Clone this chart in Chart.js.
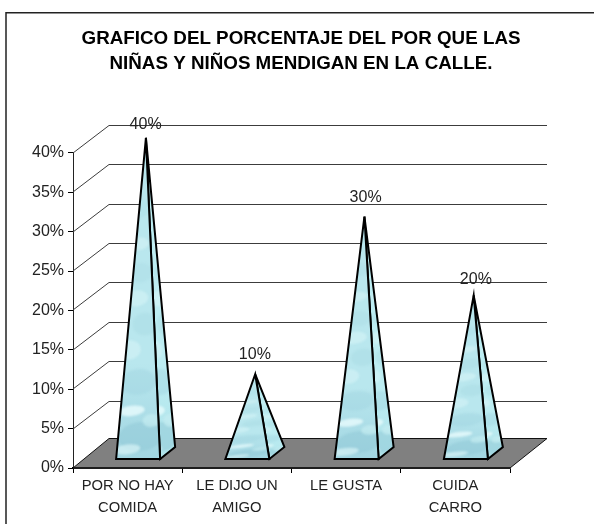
<!DOCTYPE html>
<html>
<head>
<meta charset="utf-8">
<script src="https://cdn.jsdelivr.net/npm/chart.js@4"></script>
<style>html,body{margin:0;padding:0;background:#fff}canvas{display:block}</style>
</head>
<body>
<canvas id="c" width="594" height="524"></canvas>
<script>
const titleLines = ['GRAFICO DEL PORCENTAJE DEL POR QUE LAS', 'NIÑAS Y NIÑOS MENDIGAN EN LA CALLE.'];
const categories = [['POR NO HAY', 'COMIDA'], ['LE DIJO UN', 'AMIGO'], ['LE GUSTA', ''], ['CUIDA', 'CARRO']];
const seriesValues = [40, 10, 30, 20];
const dataLabels = ['40%', '10%', '30%', '20%'];
const yMax = 40;
const yStep = 5;

const FONT = '"Liberation Sans", Arial, sans-serif';
const DX = 36, DY = 28, FLOOR_DY = 29.5;
const labelLift = [13, 20, 19, 16];
const labelShift = [0, 0, 1.5, 2.5];
// Fixed water-like mottling, as fractions of a face's bounding box.
const blotches = [
  [.55,.93,.5,.045,'#8fc8d6',.5],[.35,.85,.3,.016,'#e8fbfc',.8],[.5,.76,.4,.04,'#9ed2de',.4],
  [.3,.66,.26,.03,'#d6f4f7',.6],[.65,.58,.28,.035,'#a2d6e0',.35],[.45,.5,.28,.025,'#d8f5f8',.55],
  [.55,.42,.28,.03,'#a4d8e2',.3],[.5,.33,.25,.02,'#dcf6f8',.5],[.5,.22,.25,.03,'#a4d8e2',.25],
  [.25,.97,.3,.015,'#d8f4f6',.7],[.8,.88,.2,.02,'#c4ecf1',.7]
];

function tracePath(ctx, pts) {
  ctx.beginPath();
  pts.forEach((p, i) => i ? ctx.lineTo(p[0], p[1]) : ctx.moveTo(p[0], p[1]));
  ctx.closePath();
}

function face(ctx, pts, base, dark) {
  ctx.save();
  tracePath(ctx, pts);
  const xs = pts.map(p => p[0]), ys = pts.map(p => p[1]);
  const x0 = Math.min(...xs), x1 = Math.max(...xs), y0 = Math.min(...ys), y1 = Math.max(...ys);
  const g = ctx.createLinearGradient(0, y0, 0, y1);
  g.addColorStop(0, base); g.addColorStop(.7, base); g.addColorStop(1, dark);
  ctx.fillStyle = g;
  ctx.fill();
  ctx.save();
  ctx.clip();
  ctx.filter = 'blur(1.2px)';
  blotches.forEach(b => {
    ctx.globalAlpha = b[5];
    ctx.fillStyle = b[4];
    ctx.beginPath();
    ctx.ellipse(x0 + b[0] * (x1 - x0), y0 + b[1] * (y1 - y0), b[2] * (x1 - x0), Math.max(1.5, b[3] * (y1 - y0)), -0.12, 0, Math.PI * 2);
    ctx.fill();
  });
  ctx.restore();
  ctx.globalAlpha = 1;
  tracePath(ctx, pts);
  ctx.lineWidth = 2;
  ctx.strokeStyle = '#000';
  ctx.lineJoin = 'miter';
  ctx.miterLimit = 8;
  ctx.stroke();
  ctx.restore();
}

const scene = {
  id: 'scene',
  afterLayout(chart) {
    const t = chart.titleBlock;
    t.left = 4; t.right = chart.width + 4; t.width = chart.width;
  },
  beforeDraw(chart) {
    const ctx = chart.ctx;
    ctx.save();
    ctx.strokeStyle = '#222';
    ctx.lineWidth = 1.5;
    ctx.beginPath();
    ctx.moveTo(6, 524); ctx.lineTo(6, 12.75); ctx.lineTo(594, 12.75);
    ctx.stroke();
    ctx.restore();
  },
  beforeDatasetsDraw(chart) {
    const ctx = chart.ctx, y = chart.scales.y, a = chart.chartArea;
    ctx.save();
    ctx.strokeStyle = '#3c3c3c';
    ctx.lineWidth = 1;
    for (let v = yStep; v <= yMax; v += yStep) {
      const p = Math.round(y.getPixelForValue(v)) ;
      ctx.beginPath();
      ctx.moveTo(a.left, p);
      ctx.lineTo(a.left + DX, p - DY + .5);
      ctx.lineTo(a.right + DX + 1, p - DY + .5);
      ctx.stroke();
    }
    const y0 = y.getPixelForValue(0);
    ctx.beginPath();
    ctx.moveTo(a.left, y0);
    ctx.lineTo(a.left + DX, y0 - FLOOR_DY);
    ctx.lineTo(a.right + DX + 1, y0 - FLOOR_DY);
    ctx.lineTo(a.right, y0);
    ctx.closePath();
    ctx.fillStyle = '#808080';
    ctx.fill();
    ctx.strokeStyle = '#111';
    ctx.lineWidth = 1;
    ctx.stroke();
    ctx.lineWidth = 1.5;
    ctx.beginPath();
    ctx.moveTo(a.left, y0); ctx.lineTo(a.right, y0);
    ctx.stroke();
    ctx.restore();
  },
  afterDatasetsDraw(chart) {
    const ctx = chart.ctx, y = chart.scales.y, y0 = y.getPixelForValue(0);
    chart.getDatasetMeta(0).data.forEach((bar, i) => {
      const cx = bar.x, apex = [cx + 18.3, bar.y - 15];
      const fl = [cx - 11.5, y0 - 9], fr = [cx + 32.5, y0 - 9], br = [cx + 47.5, y0 - 21];
      face(ctx, [apex, fr, br], '#bdedf2', '#b0e4eb');
      face(ctx, [apex, fl, fr], '#b9e7ee', '#a2d6e2');
      ctx.save();
      ctx.font = '16px ' + FONT;
      ctx.fillStyle = '#222';
      ctx.textAlign = 'center';
      ctx.textBaseline = 'middle';
      ctx.fillText(dataLabels[i], cx + 18 + labelShift[i], apex[1] - labelLift[i]);
      ctx.restore();
    });
  }
};

new Chart(document.getElementById('c'), {
  type: 'bar',
  data: {
    labels: categories,
    datasets: [{ data: seriesValues, backgroundColor: 'rgba(0,0,0,0)', borderWidth: 0 }]
  },
  plugins: [scene],
  options: {
    responsive: false,
    animation: false,
    layout: { padding: { left: 0, right: 84, top: 0, bottom: 0 } },
    plugins: {
      legend: { display: false },
      tooltip: { enabled: false },
      title: {
        display: true,
        text: titleLines,
        color: '#000',
        font: { family: FONT, size: 18.8, weight: 'bold', lineHeight: 1.3 },
        padding: { top: 27, bottom: 77 }
      }
    },
    scales: {
      x: {
        afterFit(s) { s.height = 56; },
        grid: { drawOnChartArea: false, drawTicks: true, tickLength: 5, color: '#000', lineWidth: 1 },
        border: { color: '#000', width: 1.5 },
        ticks: { color: '#222', font: { family: FONT, size: 14.8, lineHeight: 1.5 }, padding: 2, maxRotation: 0, autoSkip: false }
      },
      y: {
        min: 0,
        max: yMax,
        afterFit(s) { s.width = 73; },
        grid: { drawOnChartArea: false, drawTicks: true, tickLength: 5, color: '#000', lineWidth: 1 },
        border: { color: '#222', width: 1 },
        ticks: { stepSize: yStep, color: '#222', font: { family: FONT, size: 16 }, padding: 4, callback: v => v + '%' }
      }
    }
  }
});
</script>
</body>
</html>
